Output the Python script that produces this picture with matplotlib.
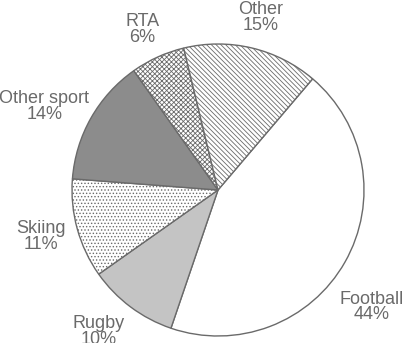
import matplotlib
matplotlib.use("Agg")
import matplotlib.pyplot as plt
import numpy as np

categories = ["Football", "Rugby", "Skiing", "Other sport", "RTA", "Other"]
values = [44, 10, 11, 14, 6, 15]
labels = ["Football\n44%", "Rugby\n10%", "Skiing\n11%", "Other sport\n14%", "RTA\n6%", "Other\n15%"]

colors = ["white", "#c4c4c4", "white", "#8c8c8c", "white", "white"]
hatches = [None, None, ".....", None, "xxxxxxx", "\\\\\\\\\\\\\\"]
label_r = [1.325, 1.267, 1.251, 1.32, 1.215, 1.218]
label_adj = [-7.6, -3.3, -0.6, 3.9, 0.8, -0.6]

plt.rcParams["font.family"] = ["Liberation Sans", "DejaVu Sans"]
plt.rcParams["hatch.linewidth"] = 0.6
plt.rcParams["hatch.color"] = "#707070"

W, H = 404, 343
fig = plt.figure(figsize=(W / 100, H / 100), dpi=100)
ax = fig.add_axes([0, 0, 1, 1])
R = 146.0
cx, cy = 218, 190
start = 49.6
wedges, _ = ax.pie(values, startangle=start, counterclock=False, colors=colors,
                   radius=1,
                   wedgeprops=dict(edgecolor="#6a6a6a", linewidth=1.0))
for w, h in zip(wedges, hatches):
    if h:
        w.set_hatch(h)

total = sum(values)
ang = start
for v, lab, r, adj in zip(values, labels, label_r, label_adj):
    span = 360 * v / total
    mid = np.deg2rad(ang - span / 2 + adj)
    ang -= span
    ax.text(r * np.cos(mid), r * np.sin(mid), lab, ha="center", va="center",
            fontsize=13, color="#6a6a6a", linespacing=0.9)

ax.set_xlim(-cx / R, (W - cx) / R)
ax.set_ylim(-(H - cy) / R, cy / R)
ax.set_aspect("equal")
ax.axis("off")
fig.savefig("out.png", dpi=100, facecolor="white")
